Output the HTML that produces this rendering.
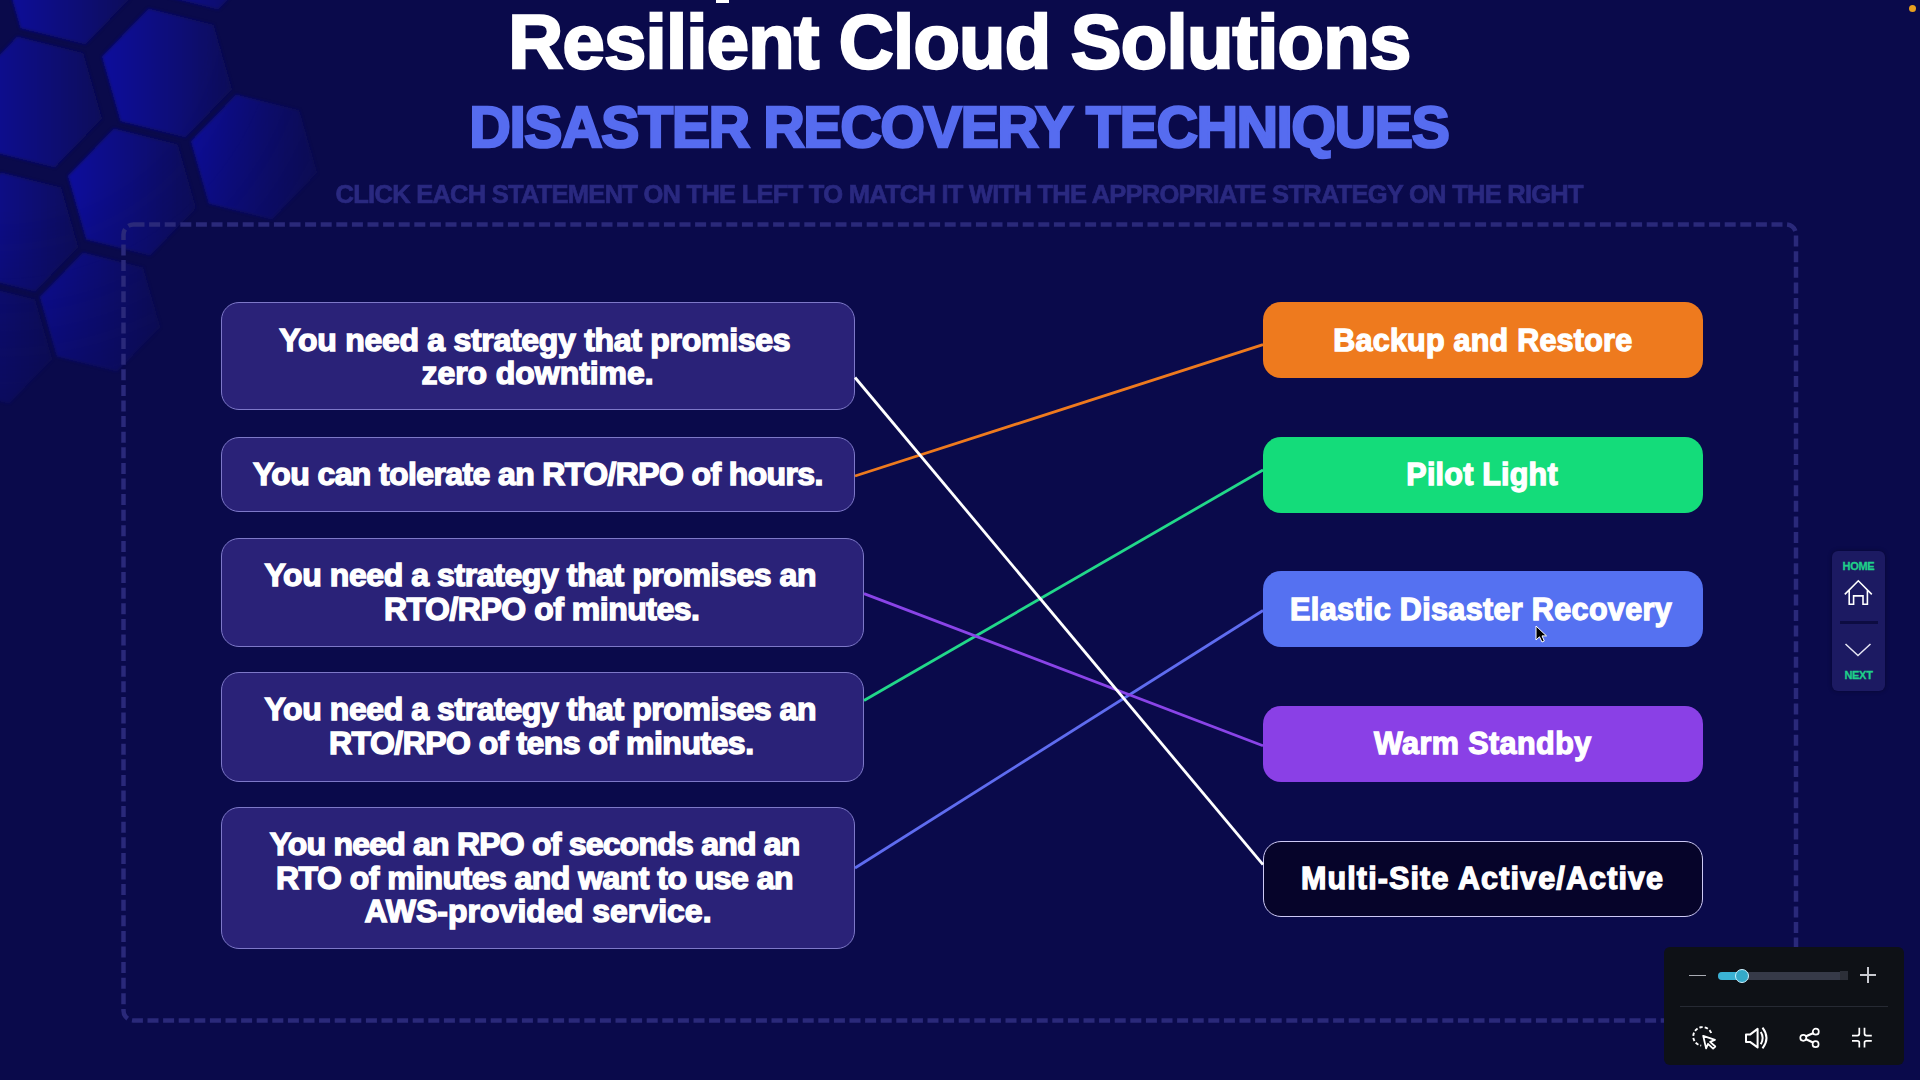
<!DOCTYPE html>
<html><head><meta charset="utf-8">
<style>
*{margin:0;padding:0;box-sizing:border-box}
html,body{width:1920px;height:1080px;overflow:hidden}
body{background:#0a0a4b;font-family:"Liberation Sans",sans-serif;font-weight:bold;color:#fff;position:relative}
.abs{position:absolute}
#hex{position:absolute;left:0;top:0}
.title{position:absolute;left:0;width:1920px;text-align:center;white-space:nowrap}
#dash{position:absolute;left:0;top:0}
.card{position:absolute;left:221px;background:#2a2278;border:1.5px solid #7d78c8;border-radius:18px}
.btn{position:absolute;left:1263px;width:440px;height:76px;border-radius:18px}
#lines{position:absolute;left:0;top:0}
</style></head><body>
<svg id="hex" width="420" height="460" viewBox="0 0 420 460">
<defs><linearGradient id="hg" x1="0" y1="0" x2="1" y2="0"><stop offset="0" stop-color="#0d0d9c"/><stop offset="1" stop-color="#0b0b5a"/></linearGradient>
<radialGradient id="hm" gradientUnits="userSpaceOnUse" cx="0" cy="0" r="470"><stop offset="0.45" stop-color="#fff"/><stop offset="1" stop-color="#fff" stop-opacity="0.25"/></radialGradient>
<mask id="hmask" maskUnits="userSpaceOnUse" x="0" y="0" width="420" height="460"><rect width="420" height="460" fill="url(#hm)"/></mask>
<filter id="hb" x="-10%" y="-10%" width="120%" height="120%"><feGaussianBlur stdDeviation="1.6"/></filter></defs>
<g mask="url(#hmask)"><g fill="url(#hg)" filter="url(#hb)">
<polygon points="132.0,-3.8 85.5,44.4 20.5,28.2 2.0,-36.2 48.5,-84.4 113.5,-68.2"/>
<polygon points="264.0,-38.0 218.2,9.4 154.2,-6.5 136.0,-70.0 181.8,-117.4 245.8,-101.5"/>
<polygon points="232.0,89.2 185.5,137.4 120.5,121.2 102.0,56.8 148.5,8.6 213.5,24.8"/>
<polygon points="317.1,172.7 271.9,219.5 208.8,203.8 190.9,141.3 236.1,94.5 299.2,110.2"/>
<polygon points="196.0,208.0 150.2,255.4 86.2,239.5 68.0,176.0 113.8,128.6 177.8,144.5"/>
<polygon points="102.0,118.5 54.7,167.4 -11.2,150.9 -30.0,85.5 17.3,36.6 83.2,53.1"/>
<polygon points="160.2,327.0 117.1,371.6 56.9,356.6 39.8,297.0 82.9,252.4 143.1,267.4"/>
<polygon points="78.2,247.0 35.1,291.6 -25.1,276.6 -42.2,217.0 0.9,172.4 61.1,187.4"/>
<polygon points="52.2,359.0 9.1,403.6 -51.1,388.6 -68.2,329.0 -25.1,284.4 35.1,299.4"/>
</g></g></svg>

<div class="abs" style="left:716px;top:0;width:13px;height:3px;background:#fff"></div>

<svg id="dash" width="1920" height="1080"><rect x="123.5" y="224.5" width="1672.5" height="796" rx="10" ry="10" fill="none" stroke="#2a297a" stroke-width="4.5" stroke-dasharray="11 4.6"/></svg>

<div class="card" style="top:302px;width:634px;height:108px"></div>
<div class="card" style="top:437px;width:634px;height:75px"></div>
<div class="card" style="top:538px;width:643px;height:109px"></div>
<div class="card" style="top:672px;width:643px;height:110px"></div>
<div class="card" style="top:807px;width:634px;height:142px"></div>

<div class="btn" style="top:302px;background:#ee7a1e"></div>
<div class="btn" style="top:437px;background:#14dc7a"></div>
<div class="btn" style="top:571px;background:#5571f1"></div>
<div class="btn" style="top:706px;background:#8a40e6"></div>
<div class="btn" style="top:841px;background:#06042a;border:1.8px solid #cdc9f5"></div>

<svg id="lines" width="1920" height="1080">
<g stroke-width="2.8" stroke-linecap="butt">
<line x1="855" y1="476" x2="1263" y2="344.7" stroke="#ee7a1e"/>
<line x1="864" y1="700.5" x2="1263" y2="470" stroke="#22d88a"/>
<line x1="855" y1="868" x2="1263" y2="610.5" stroke="#5f6cf0"/>
<line x1="864" y1="593.6" x2="1263" y2="745.8" stroke="#8a44e8"/>
<line x1="855" y1="377.5" x2="1263" y2="864.7" stroke="#ffffff"/>
</g>
</svg>

<!--TEXT-->
<div style="position:absolute;left:59.40px;top:1.67px;width:1800px;text-align:center;font-size:76px;line-height:80px;letter-spacing:-0.733px;white-space:pre;color:#fff;-webkit-text-stroke:2.4px #fff;">Resilient Cloud Solutions</div>
<div style="position:absolute;left:59.10px;top:95.95px;width:1800px;text-align:center;font-size:57px;line-height:62px;letter-spacing:-1.120px;white-space:pre;color:#566cf0;-webkit-text-stroke:2.6px #566cf0;">DISASTER RECOVERY TECHNIQUES</div>
<div style="position:absolute;left:59.25px;top:178.66px;width:1800px;text-align:center;font-size:25.5px;line-height:30px;letter-spacing:-0.742px;white-space:pre;color:#2a2980;-webkit-text-stroke:0.7px #2a2980;filter:blur(0.5px);">CLICK EACH STATEMENT ON THE LEFT TO MATCH IT WITH THE APPROPRIATE STRATEGY ON THE RIGHT</div>
<div style="position:absolute;left:-365.20px;top:322.91px;width:1800px;text-align:center;font-size:32px;line-height:34px;letter-spacing:-0.287px;white-space:pre;color:#fff;-webkit-text-stroke:1.4px #fff;">You need a strategy that promises</div>
<div style="position:absolute;left:-362.50px;top:355.81px;width:1800px;text-align:center;font-size:32px;line-height:34px;letter-spacing:-0.062px;white-space:pre;color:#fff;-webkit-text-stroke:1.4px #fff;">zero downtime.</div>
<div style="position:absolute;left:-362.10px;top:456.61px;width:1800px;text-align:center;font-size:32px;line-height:34px;letter-spacing:-0.617px;white-space:pre;color:#fff;-webkit-text-stroke:1.4px #fff;">You can tolerate an RTO/RPO of hours.</div>
<div style="position:absolute;left:-359.70px;top:558.01px;width:1800px;text-align:center;font-size:32px;line-height:34px;letter-spacing:-0.417px;white-space:pre;color:#fff;-webkit-text-stroke:1.4px #fff;">You need a strategy that promises an</div>
<div style="position:absolute;left:-358.30px;top:592.01px;width:1800px;text-align:center;font-size:32px;line-height:34px;letter-spacing:-0.489px;white-space:pre;color:#fff;-webkit-text-stroke:1.4px #fff;">RTO/RPO of minutes.</div>
<div style="position:absolute;left:-359.70px;top:692.11px;width:1800px;text-align:center;font-size:32px;line-height:34px;letter-spacing:-0.417px;white-space:pre;color:#fff;-webkit-text-stroke:1.4px #fff;">You need a strategy that promises an</div>
<div style="position:absolute;left:-358.80px;top:726.11px;width:1800px;text-align:center;font-size:32px;line-height:34px;letter-spacing:-0.515px;white-space:pre;color:#fff;-webkit-text-stroke:1.4px #fff;">RTO/RPO of tens of minutes.</div>
<div style="position:absolute;left:-365.40px;top:827.11px;width:1800px;text-align:center;font-size:32px;line-height:34px;letter-spacing:-0.788px;white-space:pre;color:#fff;-webkit-text-stroke:1.4px #fff;">You need an RPO of seconds and an</div>
<div style="position:absolute;left:-365.50px;top:860.66px;width:1800px;text-align:center;font-size:32px;line-height:34px;letter-spacing:-0.531px;white-space:pre;color:#fff;-webkit-text-stroke:1.4px #fff;">RTO of minutes and want to use an</div>
<div style="position:absolute;left:-362.00px;top:894.21px;width:1800px;text-align:center;font-size:32px;line-height:34px;letter-spacing:0.020px;white-space:pre;color:#fff;-webkit-text-stroke:1.4px #fff;">AWS-provided service.</div>
<div style="position:absolute;left:582.80px;top:323.23px;width:1800px;text-align:center;font-size:30.5px;line-height:34px;letter-spacing:0.235px;white-space:pre;color:#fff;-webkit-text-stroke:1.3px #fff;">Backup and Restore</div>
<div style="position:absolute;left:582.10px;top:457.43px;width:1800px;text-align:center;font-size:30.5px;line-height:34px;letter-spacing:0.220px;white-space:pre;color:#fff;-webkit-text-stroke:1.3px #fff;">Pilot Light</div>
<div style="position:absolute;left:581.10px;top:591.53px;width:1800px;text-align:center;font-size:30.5px;line-height:34px;letter-spacing:0.358px;white-space:pre;color:#fff;-webkit-text-stroke:1.3px #fff;">Elastic Disaster Recovery</div>
<div style="position:absolute;left:582.80px;top:726.43px;width:1800px;text-align:center;font-size:30.5px;line-height:34px;letter-spacing:0.436px;white-space:pre;color:#fff;-webkit-text-stroke:1.3px #fff;">Warm Standby</div>
<div style="position:absolute;left:582.60px;top:860.83px;width:1800px;text-align:center;font-size:30.5px;line-height:34px;letter-spacing:1.130px;white-space:pre;color:#fff;-webkit-text-stroke:1.3px #fff;">Multi-Site Active/Active</div>
<!--/TEXT-->

<!-- right nav -->
<div class="abs" style="left:1832px;top:551px;width:53px;height:140px;background:#1c1a62;border-radius:6px;box-shadow:0 0 4px rgba(0,0,0,0.35)"></div>
<div class="abs" style="left:1832px;top:560px;width:53px;text-align:center;font-size:11px;line-height:12px;color:#1fd08a;letter-spacing:-0.3px;-webkit-text-stroke:0.3px #1fd08a">HOME</div>
<svg class="abs" style="left:1832px;top:575px" width="53" height="35" viewBox="0 0 53 35">
<path d="M12.8 19.4 L26.3 5.8 L39.8 19.4 M17.2 15.6 V29.2 H21.6 V20.9 H31 V29.2 H35.4 V15.6" fill="none" stroke="#fff" stroke-width="1.6" stroke-linejoin="miter"/>
</svg>
<div class="abs" style="left:1840px;top:621px;width:38px;height:3px;background:#0d0c42"></div>
<svg class="abs" style="left:1832px;top:636px" width="53" height="28" viewBox="0 0 53 28">
<path d="M13.5 8 L26 19.5 L38.5 8" fill="none" stroke="#e6e6f4" stroke-width="1.5"/>
</svg>
<div class="abs" style="left:1832px;top:669px;width:53px;text-align:center;font-size:11px;line-height:12px;color:#1fd08a;letter-spacing:-0.3px;-webkit-text-stroke:0.3px #1fd08a">NEXT</div>

<!-- bottom-right control panel -->
<div class="abs" style="left:1664px;top:947px;width:240px;height:118px;background:#0e1116;border-radius:6px"></div>
<div class="abs" style="left:1689px;top:974.5px;width:17px;height:1.6px;background:#a9acb4"></div>
<div class="abs" style="left:1718px;top:972px;width:122px;height:8px;background:#363a48;border-radius:4px 0 0 4px"></div>
<div class="abs" style="left:1840px;top:971px;width:8px;height:9px;background:#2c2f38"></div>
<div class="abs" style="left:1718px;top:972px;width:26px;height:8px;background:#3ab2d4;border-radius:4px"></div>
<div class="abs" style="left:1735px;top:968.5px;width:14px;height:14px;background:#35a9c9;border:1.5px solid #cdf2ff;border-radius:50%"></div>
<div class="abs" style="left:1860px;top:974.3px;width:16px;height:1.6px;background:#c8cad0"></div>
<div class="abs" style="left:1867.2px;top:967px;width:1.6px;height:16px;background:#c8cad0"></div>
<div class="abs" style="left:1680px;top:1006px;width:208px;height:1px;background:#262a33"></div>
<svg class="abs" style="left:1664px;top:1020px" width="240" height="36" viewBox="0 0 240 36">
<g fill="none" stroke="#fff" stroke-width="1.7">
<!-- select icon -->
<path d="M47.2 13 A9.3 9.3 0 1 0 37.2 25.6" stroke-dasharray="3.4 2" stroke-width="1.9"/>
<path d="M39.2 15.8 L51 19.8 L46.1 21.8 L51.3 26.5 L49.1 28.6 L44 23.8 L42.1 28.4 Z" stroke-width="1.8" stroke-linejoin="round"/>
<!-- speaker -->
<path d="M82 14.6 H86 L93.6 8.9 V27.4 L86 21.9 H82 Z" stroke-linejoin="round" stroke-width="2"/>
<path d="M96.8 12 Q100.5 18 96.8 24.2" stroke-width="2"/>
<path d="M98.5 7.6 Q106.5 18 98.5 28.3" stroke-width="2"/>
<!-- share -->
<circle cx="151.8" cy="11.7" r="3"/>
<circle cx="151.6" cy="24.2" r="3"/>
<circle cx="139.3" cy="17.8" r="3"/>
<path d="M142 16.3 L149 13.2 M142 19.3 L149 22.6" stroke-width="2.2"/>
<!-- collapse -->
<path d="M195.3 7.8 V13.6 Q195.3 15.6 193.3 15.6 H188 M200.5 7.8 V13.6 Q200.5 15.6 202.5 15.6 H207.8 M195.3 27.6 V22.8 Q195.3 20.8 193.3 20.8 H188 M200.5 27.6 V22.8 Q200.5 20.8 202.5 20.8 H207.8" stroke-width="1.7"/>
</g>
</svg>

<!-- cursor -->
<svg class="abs" style="left:1535px;top:625px" width="14" height="20" viewBox="0 0 14 20">
<path d="M1 1 V15 L4.5 11.8 L7 17 L9.3 16 L7 10.9 L11.5 10.9 Z" fill="#000" stroke="#fff" stroke-width="1"/>
</svg>

<!-- top-right dot -->
<div class="abs" style="left:1908.5px;top:4.5px;width:7px;height:7px;border-radius:50%;background:#e8a020"></div>

</body></html>
